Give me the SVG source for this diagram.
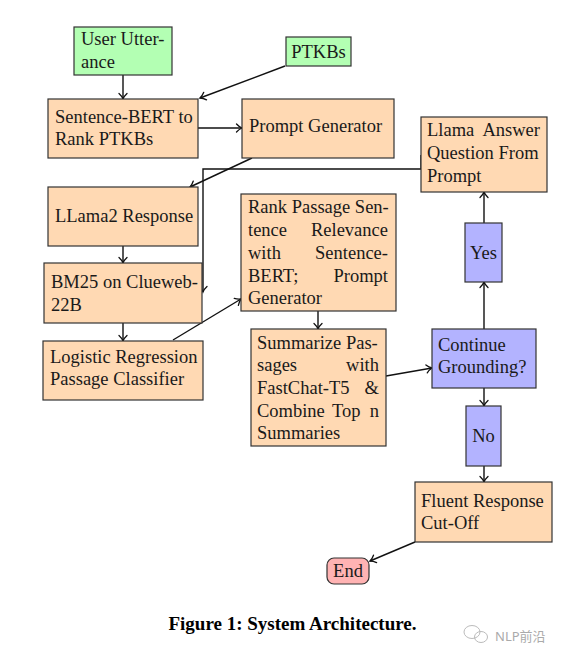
<svg xmlns="http://www.w3.org/2000/svg" width="567" height="660" viewBox="0 0 567 660">
<style>
text{font-family:"Liberation Serif","DejaVu Serif",serif;font-size:18.5px;fill:#1a1a1a}
.b{stroke:#333;stroke-width:1.2}
.g{fill:#b3ffb3}
.o{fill:#ffd9b3}
.p{fill:#b3b3ff}
.r{fill:#ffb3b3}
.c{text-anchor:middle}
.e{text-anchor:end}
#edges path{fill:none;stroke:#111;stroke-width:1.4;marker-end:url(#ah)}
</style>
<defs>
<marker id="ah" markerUnits="userSpaceOnUse" markerWidth="12" markerHeight="12" viewBox="-7 -6 8 12" refX="0" refY="0" orient="auto">
<path d="M-5.5,-4 C-3.5,-1.8 -1.2,-0.5 0,0 C-1.2,0.5 -3.5,1.8 -5.5,4" fill="none" stroke="#111" stroke-width="1.3" stroke-linecap="round"/>
</marker>
</defs>
<rect width="567" height="660" fill="#fff"/>
<g id="edges">
<path d="M123,75 V99"/>
<path d="M285,66 L200,98"/>
<path d="M198,128 H242"/>
<path d="M252,158 L190,187"/>
<path d="M421,155 V169 H203 V292"/>
<path d="M123,246 V263"/>
<path d="M123,323 V341"/>
<path d="M173,340 L241,299"/>
<path d="M318,311 V329"/>
<path d="M386,376 L432,368"/>
<path d="M484,388 V406"/>
<path d="M484,466 V482"/>
<path d="M415,542 L370,561"/>
<path d="M484,329 V282"/>
<path d="M484,223 V192"/>
</g>
<g id="user-utterance">
<rect class="b g" x="74" y="27" width="98" height="48"/>
<text x="81" y="45">User Utter-</text>
<text x="81" y="68">ance</text>
</g>
<g id="ptkbs">
<rect class="b g" x="286" y="37" width="65" height="29"/>
<text class="c" x="318.5" y="58">PTKBs</text>
</g>
<g id="sentence-bert">
<rect class="b o" x="48" y="99" width="150" height="59"/>
<text x="55" y="123">Sentence-BERT to</text>
<text x="55" y="145">Rank PTKBs</text>
</g>
<g id="prompt-generator">
<rect class="b o" x="242" y="99" width="152" height="59"/>
<text x="249" y="132">Prompt Generator</text>
</g>
<g id="llama2-response">
<rect class="b o" x="48" y="187" width="150" height="59"/>
<text x="55" y="222">LLama2 Response</text>
</g>
<g id="bm25">
<rect class="b o" x="44" y="263" width="158" height="60"/>
<text x="51" y="288">BM25 on Clueweb-</text>
<text x="51" y="311">22B</text>
</g>
<g id="logistic-regression">
<rect class="b o" x="43" y="341" width="160" height="59"/>
<text x="50" y="363">Logistic Regression</text>
<text x="50" y="385">Passage Classifier</text>
</g>
<g id="rank-passage">
<rect class="b o" x="241" y="194" width="155" height="117"/>
<text x="248" y="213">Rank Passage Sen-</text>
<text x="248" y="236">tence</text><text class="e" x="388" y="236">Relevance</text>
<text x="248" y="259">with</text><text class="e" x="388" y="259">Sentence-</text>
<text x="248" y="282">BERT;</text><text class="e" x="388" y="282">Prompt</text>
<text x="248" y="304">Generator</text>
</g>
<g id="summarize">
<rect class="b o" x="251" y="329" width="135" height="117"/>
<text x="257" y="349">Summarize Pas-</text>
<text x="257" y="371">sages</text><text class="e" x="379" y="371">with</text>
<text x="257" y="394">FastChat-T5</text><text class="e" x="379" y="394">&amp;</text>
<text x="257" y="417">Combine</text><text x="332" y="417">Top</text><text class="e" x="379" y="417">n</text>
<text x="257" y="439">Summaries</text>
</g>
<g id="llama-answer">
<rect class="b o" x="421" y="117" width="126" height="75"/>
<text x="427" y="136">Llama</text><text class="e" x="540" y="136">Answer</text>
<text x="427" y="159">Question From</text>
<text x="427" y="182">Prompt</text>
</g>
<g id="yes">
<rect class="b p" x="465" y="223" width="37" height="59"/>
<text class="c" x="483.5" y="259">Yes</text>
</g>
<g id="continue-grounding">
<rect class="b p" x="432" y="329" width="104" height="59"/>
<text x="438" y="351">Continue</text>
<text x="438" y="373">Grounding?</text>
</g>
<g id="no">
<rect class="b p" x="466" y="406" width="35" height="60"/>
<text class="c" x="483.5" y="442">No</text>
</g>
<g id="fluent-response">
<rect class="b o" x="415" y="482" width="137" height="60"/>
<text x="421" y="507">Fluent Response</text>
<text x="421" y="529">Cut-Off</text>
</g>
<g id="end">
<rect class="b r" x="327" y="558" width="42" height="26" rx="7"/>
<text class="c" x="348" y="577">End</text>
</g>
<text class="c" x="292.5" y="630" style="font-weight:bold;font-size:19px;fill:#000">Figure 1: System Architecture.</text>
<g id="watermark" fill="none" stroke="#bbb" stroke-width="1">
<ellipse cx="472" cy="632" rx="8" ry="6.5"/>
<ellipse cx="481" cy="637" rx="6.5" ry="5.5"/>
</g>
<text x="495" y="641" style="font-family:'Noto Sans','Noto Sans CJK SC',sans-serif;font-size:13px;fill:#aaa">NLP前沿</text>
</svg>
